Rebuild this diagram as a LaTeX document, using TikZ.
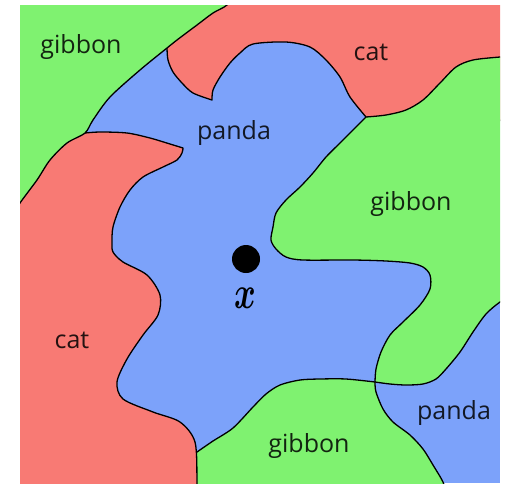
\documentclass[tikz,border=0pt]{standalone}
\usepackage{amsmath}
\usepackage{fontspec}
\usepackage{tikz}
\newfontfamily\labelfont{Open Sans}
\definecolor{catred}{RGB}{248,122,116}
\definecolor{gibbongreen}{RGB}{127,242,112}
\definecolor{pandablue}{RGB}{124,162,250}

\begin{document}
\begin{tikzpicture}[x=1pt, y=-1pt,
  region/.style={draw=black, line width=1.3pt, line join=round},
  lbl/.style={font={\labelfont\fontsize{25}{30}\selectfont}, text=black,
    text opacity=0.85, inner sep=0pt, anchor=base},
  point/.style={circle, fill=black, minimum size=28pt, inner sep=0pt}
]
  \useasboundingbox (0,0) rectangle (506,483);
  \fill[pandablue] (20,5) rectangle (500,483);

  \begin{scope}
    \clip (20,5) rectangle (500,483);
    % cat, top
    \filldraw[region, fill=catred] (200,-10) -- (510,-10) -- (510,120) -- (380,125) -- (366,117)
      -- plot[smooth] coordinates {(366,117) (350,97) (340,77) (326,60) (310,47) (286,42)
         (253,44) (240,53) (230,63) (220,77) (213,90) (212,100)}
      -- plot[smooth] coordinates {(212,100) (193,93) (182,83) (173,72) (168,60) (167,48)}
      -- (155,35) -- cycle;
    % gibbon, right
    \filldraw[region, fill=gibbongreen] plot[smooth] coordinates {(366,117) (386,115) (406,110)
         (423,100) (440,83) (456,67) (473,60) (500,57) (515,56)}
      -- (515,293)
      -- plot[smooth] coordinates {(515,293) (500,302) (486,314) (473,332) (460,352) (446,369)
         (436,379) (423,384) (406,385) (390,384) (375,382)}
      -- plot[smooth] coordinates {(375,382) (376,369) (381,352) (390,335) (403,322) (420,305)
         (430,289) (430,275) (423,267) (410,263) (386,261) (353,260) (303,260) (286,257)
         (276,249) (271,240) (273,227) (276,213) (286,200) (300,187) (313,173) (326,157)
         (340,143) (353,130) (366,117)}
      -- cycle;
    % gibbon, bottom
    \filldraw[region, fill=gibbongreen] (180,495) -- (185,455) -- (197,452)
      -- plot[smooth] coordinates {(197,452) (213,441) (233,428) (253,407) (266,394) (280,385)
         (300,380) (320,379) (346,379) (375,382)}
      -- plot[smooth] coordinates {(375,382) (376,392) (383,409) (393,422) (410,435) (423,449)
         (433,465) (443,482) (447,495)}
      -- cycle;
    % cat, left
    \filldraw[region, fill=catred] (5,170) -- (60,120) -- (85,133)
      -- plot[smooth] coordinates {(85,133) (100,132) (127,133) (150,138) (170,144) (183,148)}
      -- plot[smooth] coordinates {(183,148) (182,153) (177,160) (163,167) (143,177) (130,190)
         (120,207) (113,227) (112,242) (113,252) (123,262) (147,275) (160,295) (158,315)
         (143,335) (127,359) (117,382) (123,399) (153,412) (180,422) (195,442) (197,482)
         (197,495)}
      -- (5,495) -- cycle;
    % gibbon, top left
    \filldraw[region, fill=gibbongreen] (0,-10) -- (240,-10)
      -- plot[smooth] coordinates {(240,-10) (227,5) (213,13) (197,25) (177,40) (167,48)
         (140,70) (110,97) (93,120) (85,133) (67,143) (50,160) (37,180) (20,203) (10,220)}
      -- cycle;
  \end{scope}

  % labels
  \node[lbl] (gibbonA) at (81,53)    {gibbon};
  \node[lbl] (catA)    at (371,60)   {cat};
  \node[lbl] (pandaA)  at (234,139)  {panda};
  \node[lbl] (gibbonB) at (411,210)  {gibbon};
  \node[lbl] (catB)    at (72,348)   {cat};
  \node[lbl] (pandaB)  at (454,419)  {panda};
  \node[lbl] (gibbonC) at (309,452)  {gibbon};

  % input point
  \node[point] (x) at (246,259) {};
  \node[inner sep=0pt, xscale=3.3, yscale=4.6] (xlbl) at (245,298) {$\boldsymbol{x}$};
\end{tikzpicture}
\end{document}
